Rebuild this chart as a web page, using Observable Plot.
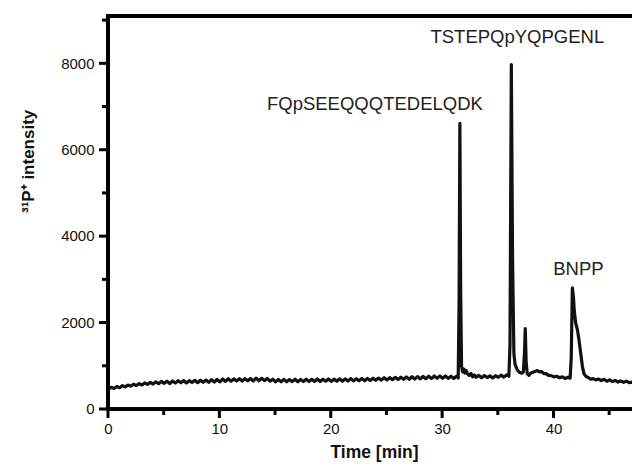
<!DOCTYPE html>
<html><head><meta charset="utf-8">
<script src="https://cdn.jsdelivr.net/npm/d3@7"></script>
<script src="https://cdn.jsdelivr.net/npm/@observablehq/plot@0.6"></script>
<style>
html,body{margin:0;padding:0;background:#fff;}
</style></head><body><div id="chart"></div>
<script>
// Time [min]
const times = [
  0,0.25,0.5,0.75,1,1.25,1.5,1.75,2,2.25,2.5,2.75,3,3.25,3.5,3.75,4,4.25,4.5,4.75,
  5,5.25,5.5,5.75,6,6.25,6.5,6.75,7,7.25,7.5,7.75,8,8.25,8.5,8.75,9,9.25,9.5,9.75,
  10,10.25,10.5,10.75,11,11.25,11.5,11.75,12,12.25,12.5,12.75,13,13.25,13.5,13.75,14,14.25,14.5,14.75,
  15,15.25,15.5,15.75,16,16.25,16.5,16.75,17,17.25,17.5,17.75,18,18.25,18.5,18.75,19,19.25,19.5,19.75,
  20,20.25,20.5,20.75,21,21.25,21.5,21.75,22,22.25,22.5,22.75,23,23.25,23.5,23.75,24,24.25,24.5,24.75,
  25,25.25,25.5,25.75,26,26.25,26.5,26.75,27,27.25,27.5,27.75,28,28.25,28.5,28.75,29,29.25,29.5,29.75,
  30,30.25,30.5,30.75,31,31.25,31.4,
  31.48,31.55,31.62,31.7,31.8,31.9,32,32.1,32.25,32.4,32.55,32.7,32.85,33,33.25,33.5,33.75,34,34.25,34.5,34.75,
  35,35.25,35.5,35.75,35.95,36.05,36.17,36.28,36.4,36.5,36.7,36.9,37.1,37.25,37.35,37.42,37.5,37.6,37.75,37.9,
  38.1,38.3,38.5,38.7,38.9,39.1,39.3,39.5,39.75,40,40.25,40.5,40.75,41,41.25,41.45,
  41.55,41.65,41.75,41.82,41.95,42.1,42.25,42.4,42.55,42.7,42.9,43.1,43.3,43.5,43.75,
  44,44.25,44.5,44.75,45,45.25,45.5,45.75,46,46.25,46.5,46.75,47,47.25
];
// 31P+ intensity
const intensity = [
  470,515,488,530,505,552,522,565,540,585,555,600,568,615,580,628,590,640,598,650,
  605,655,600,660,612,665,618,670,615,668,625,675,620,678,630,682,628,690,635,695,
  640,705,650,712,655,708,660,715,658,712,665,718,660,725,665,722,668,718,655,700,
  640,695,642,698,640,692,645,700,642,695,648,702,645,698,650,705,648,700,652,706,
  650,702,655,710,656,708,660,715,662,712,665,720,668,718,670,725,675,728,680,735,
  685,738,690,745,692,748,698,752,700,758,705,762,708,765,712,770,715,775,720,778,
  722,775,720,772,718,768,730,
  2500,6620,2800,1000,870,935,840,905,820,790,835,755,800,745,790,735,785,740,780,730,782,
  745,795,750,800,770,1500,7980,3500,1300,1050,920,860,840,870,1300,1870,1100,830,790,840,
  860,880,900,870,875,830,830,790,785,755,770,735,755,720,745,725,
  1200,2815,2600,2280,2000,1850,1600,1300,1000,820,760,735,700,715,685,
  705,670,700,655,685,645,675,635,662,630,655,620,632,605
];
const xMajor = [0, 10, 20, 30, 40];
const xMinor = [5, 15, 25, 35, 45];
const yMajor = [0, 2000, 4000, 6000, 8000];
const yMinor = [1000, 3000, 5000, 7000, 9000];
const peakNames = ["FQpSEEQQQTEDELQDK", "TSTEPQpYQPGENL", "BNPP"];
const peakLabelTime = [23.92, 36.71, 42.19];
const peakLabelValue = [7070, 8609, 3240];
const xTitle = "Time [min]";
const yTitle = "³¹P⁺ intensity";
const yTop = 9095;
const xEnd = 47.05;

const W = 632, H = 469, mL = 108, mR = 0, mT = 16, mB = 60;
const data = times.map((t, i) => ({t, v: intensity[i]}));
const labels = peakNames.map((name, i) => ({name, t: peakLabelTime[i], v: peakLabelValue[i]}));

// pixel sizes converted to data units through the scale extents
const uy = yTop / (H - mT - mB);   // data units per px (y)
const ux = xEnd / (W - mL - mR);   // data units per px (x)
// vertical pieces (left axis, x ticks) as filled bars; horizontal pieces as bars too
const vBars = [
  {x1: -2 * ux, x2: 2 * ux, y1: -2 * uy, y2: yTop + 2 * uy},
  ...xMajor.map(t => ({x1: t - 1.5 * ux, x2: t + 1.5 * ux, y1: -9 * uy, y2: 0})),
  ...xMinor.map(t => ({x1: t - 1.5 * ux, x2: t + 1.5 * ux, y1: -6 * uy, y2: 0}))
];
const hBars = [
  {x1: -2 * ux, x2: xEnd + 1, y1: -2 * uy, y2: 2 * uy},
  {x1: -2 * ux, x2: xEnd + 1, y1: yTop - 2 * uy, y2: yTop + 2 * uy},
  ...yMajor.map(v => ({x1: -9 * ux, x2: 0, y1: v - 1.5 * uy, y2: v + 1.5 * uy})),
  ...yMinor.map(v => ({x1: -6 * ux, x2: 0, y1: v - 1.5 * uy, y2: v + 1.5 * uy}))
];

const chart = Plot.plot({
  width: W, height: H,
  marginLeft: mL, marginRight: mR, marginTop: mT, marginBottom: mB,
  style: {fontFamily: "'Liberation Sans', Arial, Helvetica, sans-serif", fontSize: "15px", color: "#111", background: "#fff", overflow: "hidden"},
  x: {domain: [0, xEnd], label: null},
  y: {domain: [0, yTop], label: null},
  marks: [
    Plot.axisX({ticks: xMajor, tickSize: 0, tickPadding: 14, label: null, fontSize: 15, tickFormat: d => String(d)}),
    Plot.axisY({ticks: yMajor, tickSize: 0, tickPadding: 14, label: null, fontSize: 15, tickFormat: d => String(d)}),
    Plot.line(data, {x: "t", y: "v", stroke: "#111", strokeWidth: 3.2, clip: true}),
    Plot.rect(vBars, {x1: "x1", x2: "x2", y1: "y1", y2: "y2", fill: "#000"}),
    Plot.rect(hBars, {x1: "x1", x2: "x2", y1: "y1", y2: "y2", fill: "#000"}),
    Plot.text(labels, {x: "t", y: "v", text: "name", fontSize: 18.5, textAnchor: "middle", lineAnchor: "middle", fill: "#222"}),
    Plot.text([yTitle], {text: d => d, frameAnchor: "left", dx: -80, rotate: -90, fontWeight: "bold", fontSize: 17, fill: "#111"}),
    Plot.text([xTitle], {text: d => d, frameAnchor: "bottom", dy: 48.5, dx: 4, fontWeight: "bold", fontSize: 17.5, fill: "#111"})
  ]
});
document.getElementById("chart").appendChild(chart);
</script>
</body></html>
